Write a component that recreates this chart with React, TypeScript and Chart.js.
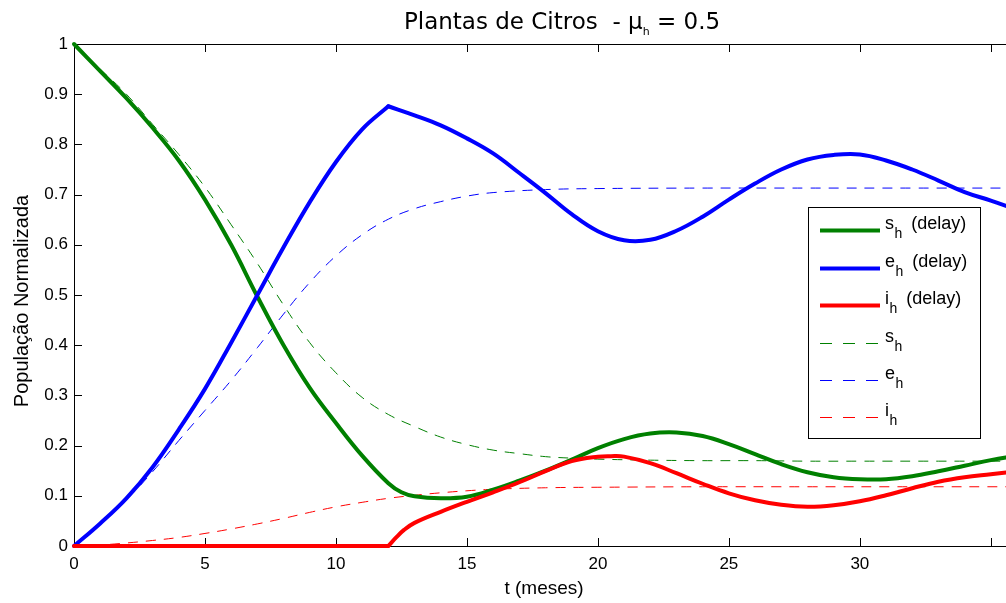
import React, { useEffect, useRef } from 'react';
import { Chart, registerables } from 'chart.js';

Chart.register(...registerables);

// ---------- data ----------
const tShDelay = [0, 1, 2, 3, 4, 5, 6, 7, 8, 9, 10, 11, 12, 12.5, 13, 14, 15, 16, 17, 18, 19, 20, 21, 22, 23, 24, 25, 26, 27, 28, 29, 30, 31, 32, 33, 34, 35, 36];
const shDelay = [1.0, 0.946, 0.892, 0.833, 0.768, 0.69, 0.6, 0.497, 0.4, 0.315, 0.245, 0.18, 0.125, 0.107, 0.099, 0.095, 0.098, 0.112, 0.13, 0.15, 0.172, 0.195, 0.213, 0.224, 0.226, 0.219, 0.203, 0.183, 0.163, 0.147, 0.137, 0.133, 0.133, 0.139, 0.149, 0.16, 0.171, 0.18];

const tEhDelayA = [0, 1, 2, 3, 4, 5, 6, 7, 8, 9, 10, 11, 12];
const ehDelayA = [0, 0.045, 0.095, 0.157, 0.232, 0.313, 0.405, 0.5, 0.595, 0.685, 0.765, 0.83, 0.876];
const tEhDelayB = [12, 13, 14, 15, 16, 17, 18, 19, 20, 21, 22, 23, 24, 25, 26, 27, 28, 29, 30, 31, 32, 33, 34, 35, 36];
const ehDelayB = [0.876, 0.858, 0.838, 0.812, 0.782, 0.743, 0.703, 0.661, 0.627, 0.609, 0.61, 0.628, 0.656, 0.69, 0.722, 0.75, 0.77, 0.779, 0.78, 0.768, 0.75, 0.728, 0.705, 0.688, 0.67];

const tIhDelayA = [0, 12];
const ihDelayA = [0, 0];
const tIhDelayB = [12, 12.3, 12.6, 13, 14, 15, 16, 17, 18, 19, 20, 20.5, 21, 22, 23, 24, 25, 26, 27, 28, 29, 30, 31, 32, 33, 34, 35, 36];
const ihDelayB = [0, 0.017, 0.032, 0.046, 0.068, 0.088, 0.107, 0.127, 0.149, 0.169, 0.178, 0.179, 0.178, 0.165, 0.145, 0.124, 0.105, 0.091, 0.082, 0.078, 0.081, 0.089, 0.101, 0.115, 0.128, 0.137, 0.143, 0.149];

const tSh = [0, 1, 2, 3, 4, 5, 6, 7, 8, 9, 10, 11, 12, 13, 14, 15, 16, 17, 18, 19, 20, 22, 24, 26, 28, 30, 33, 36];
const sh = [1, 0.95, 0.9, 0.84, 0.78, 0.715, 0.64, 0.563, 0.48, 0.405, 0.345, 0.296, 0.262, 0.238, 0.217, 0.202, 0.191, 0.184, 0.178, 0.175, 0.173, 0.171, 0.17, 0.17, 0.169, 0.169, 0.169, 0.169];

const tEh = [0, 1, 2, 3, 4, 5, 6, 7, 8, 9, 10, 11, 12, 13, 14, 15, 16, 18, 20, 24, 28, 32, 36];
const eh = [0, 0.045, 0.092, 0.148, 0.21, 0.27, 0.33, 0.395, 0.462, 0.525, 0.578, 0.62, 0.651, 0.672, 0.686, 0.697, 0.704, 0.71, 0.712, 0.713, 0.713, 0.713, 0.713];

const tIh = [0, 1, 2, 3, 4, 5, 6, 7, 8, 9, 10, 11, 12, 13, 14, 15, 16, 18, 20, 24, 28, 32, 36];
const ih = [0, 0.002, 0.006, 0.011, 0.017, 0.025, 0.034, 0.044, 0.055, 0.067, 0.078, 0.087, 0.095, 0.101, 0.106, 0.11, 0.113, 0.116, 0.117, 0.118, 0.118, 0.118, 0.118];

const xTicks = [0, 5, 10, 15, 20, 25, 30, 35];
const yTicks = [0, 0.1, 0.2, 0.3, 0.4, 0.5, 0.6, 0.7, 0.8, 0.9, 1];

const legendItems = [
  { main: 's', sub: 'h', suffix: '(delay)', color: '#008000', dashed: false },
  { main: 'e', sub: 'h', suffix: '(delay)', color: '#0000ff', dashed: false },
  { main: 'i', sub: 'h', suffix: '(delay)', color: '#ff0000', dashed: false },
  { main: 's', sub: 'h', suffix: '', color: '#008000', dashed: true },
  { main: 'e', sub: 'h', suffix: '', color: '#0000ff', dashed: true },
  { main: 'i', sub: 'h', suffix: '', color: '#ff0000', dashed: true },
];

const SANS = '"Liberation Sans", Arial, Helvetica, sans-serif';
const DASH = [10, 8];

const pts = (t: number[], v: number[]) => t.map((x, i) => ({ x, y: v[i] }));

function solid(label: string, color: string, t: number[], v: number[]) {
  return {
    label,
    data: pts(t, v),
    borderColor: color,
    backgroundColor: color,
    borderWidth: 4,
    pointRadius: 0,
    fill: false,
    tension: 0.4,
    clip: false as any,
    borderCapStyle: 'round' as const,
    borderJoinStyle: 'round' as const,
  };
}

function dashed(label: string, color: string, t: number[], v: number[]) {
  return {
    label,
    data: pts(t, v),
    borderColor: color,
    backgroundColor: color,
    borderWidth: 1,
    borderDash: DASH,
    pointRadius: 0,
    fill: false,
    tension: 0.4,
    clip: false as any,
  };
}

const framePlugin = {
  id: 'frame',
  beforeDatasetsDraw(chart: any) {
    const { ctx, chartArea: a, scales } = chart;
    ctx.save();
    ctx.strokeStyle = '#000';
    ctx.lineWidth = 1;
    ctx.strokeRect(a.left + 0.5, a.top + 0.5, a.right - a.left, a.bottom - a.top);
    ctx.beginPath();
    const tl = 8;
    for (const v of xTicks) {
      const x = Math.round(scales.x.getPixelForValue(v)) + 0.5;
      ctx.moveTo(x, a.bottom);
      ctx.lineTo(x, a.bottom - tl);
      ctx.moveTo(x, a.top);
      ctx.lineTo(x, a.top + tl);
    }
    for (const v of yTicks) {
      const y = Math.round(scales.y.getPixelForValue(v)) + 0.5;
      ctx.moveTo(a.left, y);
      ctx.lineTo(a.left + tl, y);
      ctx.moveTo(a.right, y);
      ctx.lineTo(a.right - tl, y);
    }
    ctx.stroke();
    ctx.restore();
  },
};

const textPlugin = {
  id: 'texts',
  afterDraw(chart: any) {
    const { ctx } = chart;
    ctx.save();
    ctx.fillStyle = '#000';
    ctx.textBaseline = 'alphabetic';

    // Title
    const tMain = 'Plantas de Citros  - \u03bc';
    const tEnd = ' = 0.5';
    const bigT = '23px "DejaVu Sans", sans-serif';
    const smallT = '11px "DejaVu Sans", sans-serif';
    ctx.font = bigT;
    const w1 = ctx.measureText(tMain).width;
    const w3 = ctx.measureText(tEnd).width;
    ctx.font = smallT;
    const w2 = ctx.measureText('h').width;
    let x = 562 - (w1 + w2 + w3) / 2;
    ctx.textAlign = 'left';
    ctx.font = bigT;
    ctx.fillText(tMain, x, 29);
    x += w1;
    ctx.font = smallT;
    ctx.fillText('h', x, 35);
    x += w2;
    ctx.font = bigT;
    ctx.fillText(tEnd, x, 29);

    // Axis titles
    ctx.textAlign = 'center';
    ctx.font = '19px ' + SANS;
    ctx.fillText('t (meses)', 544, 594);
    ctx.save();
    ctx.translate(28, 301);
    ctx.rotate(-Math.PI / 2);
    ctx.font = '20px ' + SANS;
    ctx.fillText('População Normalizada', 0, 0);
    ctx.restore();

    // Legend
    const bx = 808, by = 207, bw = 172, bh = 231;
    ctx.fillStyle = '#fff';
    ctx.fillRect(bx, by, bw, bh);
    ctx.strokeStyle = '#000';
    ctx.lineWidth = 1;
    ctx.strokeRect(bx + 0.5, by + 0.5, bw, bh);
    const rows = [230, 268, 305, 343, 380, 417];
    legendItems.forEach((it, i) => {
      const y = rows[i];
      ctx.save();
      ctx.strokeStyle = it.color;
      ctx.lineWidth = it.dashed ? 1 : 4;
      ctx.setLineDash(it.dashed ? [12, 11] : []);
      ctx.beginPath();
      ctx.moveTo(820, y + 0.5);
      ctx.lineTo(880, y + 0.5);
      ctx.stroke();
      ctx.restore();
      ctx.fillStyle = '#000';
      ctx.textAlign = 'left';
      ctx.font = '18px ' + SANS;
      let tx = 885;
      ctx.fillText(it.main, tx, y - 1);
      tx += ctx.measureText(it.main).width + 0.5;
      ctx.font = '14px ' + SANS;
      ctx.fillText(it.sub, tx, y + 8);
      tx += ctx.measureText(it.sub).width;
      if (it.suffix) {
        ctx.font = '18px ' + SANS;
        ctx.fillText(it.suffix, tx + 9, y - 1);
      }
    });
    ctx.restore();
  },
};

export default function App() {
  const ref = useRef<HTMLCanvasElement>(null);
  useEffect(() => {
    const canvas = ref.current;
    if (!canvas) return;
    const chart = new Chart(canvas, {
      type: 'line',
      data: {
        datasets: [
          solid('i_h (delay)', '#ff0000', tIhDelayB, ihDelayB),
          solid('i_h (delay) a', '#ff0000', tIhDelayA, ihDelayA),
          solid('e_h (delay)', '#0000ff', tEhDelayA, ehDelayA),
          solid('e_h (delay) b', '#0000ff', tEhDelayB, ehDelayB),
          solid('s_h (delay)', '#008000', tShDelay, shDelay),
          dashed('s_h', '#008000', tSh, sh),
          dashed('e_h', '#0000ff', tEh, eh),
          dashed('i_h', '#ff0000', tIh, ih),
        ] as any,
      },
      options: {
        responsive: false,
        animation: false,
        devicePixelRatio: 1,
        layout: { padding: { left: 0, top: 44, right: 3, bottom: 0 } },
        plugins: {
          legend: { display: false },
          tooltip: { enabled: false },
          title: { display: false },
        },
        scales: {
          x: {
            type: 'linear',
            min: 0,
            max: 36,
            grid: { display: false, drawTicks: false },
            border: { display: false },
            ticks: {
              stepSize: 5,
              color: '#000',
              padding: 8,
              font: { family: SANS, size: 17 },
              maxRotation: 0,
            },
            afterBuildTicks: (s: any) => {
              s.ticks = s.ticks.filter((t: any) => xTicks.includes(t.value));
            },
            afterFit: (s: any) => {
              s.height = 57;
            },
          },
          y: {
            type: 'linear',
            min: 0,
            max: 1,
            grid: { display: false, drawTicks: false },
            border: { display: false },
            ticks: {
              stepSize: 0.1,
              color: '#000',
              padding: 6,
              font: { family: SANS, size: 17 },
              callback: (v: any) => String(Number(Number(v).toFixed(1))),
            },
            afterFit: (s: any) => {
              s.width = 74;
            },
          },
        },
      } as any,
      plugins: [framePlugin, textPlugin],
    });
    return () => chart.destroy();
  }, []);

  return (
    <div style={{ position: 'fixed', left: 0, top: 0, width: 1006, height: 603, overflow: 'hidden', background: '#fff' }}>
      <canvas ref={ref} width={1020} height={603} style={{ display: 'block', width: 1020, height: 603 }} />
    </div>
  );
}
